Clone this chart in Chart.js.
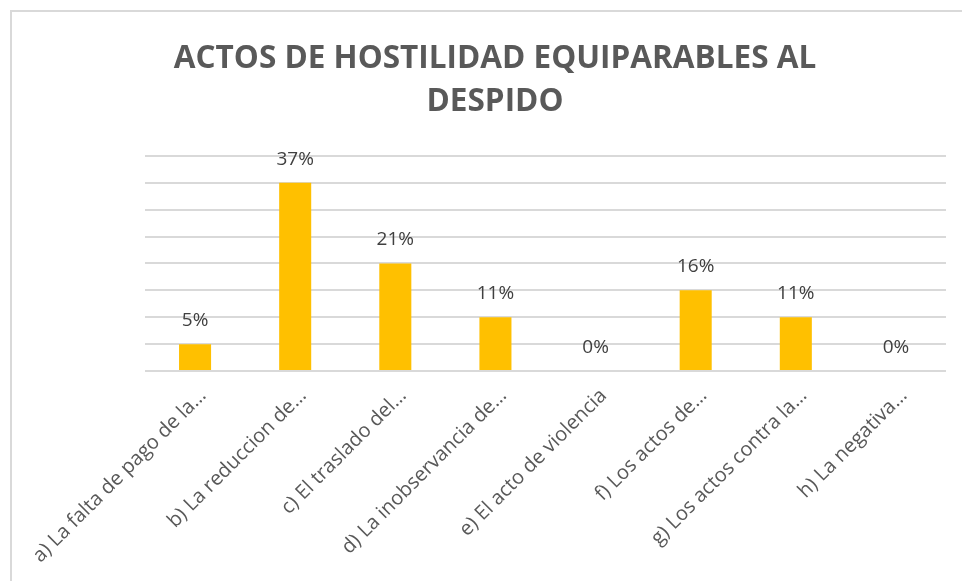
<!DOCTYPE html>
<html>
<head>
<meta charset="utf-8">
<script src="https://cdn.jsdelivr.net/npm/chart.js@4"></script>
<style>
  html, body { margin: 0; padding: 0; background: #fff; }
  #frame {
    position: absolute; left: 10px; top: 10px; width: 952px; height: 571px;
    border-top: 2px solid #d9d9d9; border-left: 2px solid #d9d9d9;
    box-sizing: border-box;
  }
  #wrap { position: absolute; left: 0; top: 0; width: 950px; height: 569px; }
</style>
</head>
<body>
<div id="frame"><div id="wrap"><canvas id="bar-chart"></canvas></div></div>
<script>
const categories = [
  'a) La falta de pago de la…',
  'b) La reduccion de…',
  'c) El traslado del…',
  'd) La inobservancia de…',
  'e) El acto de violencia',
  'f) Los actos de…',
  'g) Los actos contra la…',
  'h) La negativa…'
];
const percentValues = [5.26, 36.84, 21.05, 10.53, 0, 15.79, 10.53, 0];
const valueLabels = ['5%', '37%', '21%', '11%', '0%', '16%', '11%', '0%'];
const titleLines = ['ACTOS DE HOSTILIDAD EQUIPARABLES AL', 'DESPIDO'];

const barColor = '#FFC000';
const gridColor = '#d9d9d9';

const valueLabelPlugin = {
  id: 'valueLabels',
  afterDatasetsDraw(chart) {
    const ctx = chart.ctx;
    const meta = chart.getDatasetMeta(0);
    ctx.save();
    ctx.font = '19px "Open Sans"';
    ctx.fillStyle = '#404040';
    ctx.textAlign = 'center';
    ctx.textBaseline = 'alphabetic';
    meta.data.forEach(function(bar, i){
      ctx.fillText(valueLabels[i], bar.x, bar.y - 18);
    });
    ctx.restore();
  }
};

const data = {
  labels: categories,
  datasets: [{
    data: percentValues,
    backgroundColor: barColor,
    barPercentage: 0.32,
    categoryPercentage: 1.0
  }]
};

const config = {
  type: 'bar',
  data: data,
  plugins: [valueLabelPlugin],
  options: {
    responsive: true,
    maintainAspectRatio: false,
    animation: false,
    layout: { padding: { left: 32, right: 16, top: 0, bottom: 4 } },
    plugins: {
      legend: { display: false },
      tooltip: { enabled: false },
      title: {
        display: true,
        text: titleLines,
        color: '#595959',
        font: { family: 'Open Sans', size: 31.5, weight: 'bold', lineHeight: 1.38 },
        padding: { top: 25, bottom: 32 }
      }
    },
    scales: {
      x: {
        afterFit: function(scale){ scale.height = 206; },
        grid: { display: false },
        border: { display: false },
        ticks: {
          color: '#595959',
          font: { family: 'Open Sans', size: 20 },
          minRotation: 45,
          maxRotation: 45,
          autoSkip: false,
          padding: 5,
          labelOffset: 8
        }
      },
      y: {
        min: 0,
        max: 42.1,
        afterFit: function(scale){ scale.width = 101; },
        ticks: { display: false, stepSize: 5.2625 },
        border: { display: false },
        grid: { color: gridColor, lineWidth: 2, drawTicks: false }
      }
    }
  }
};

Chart.defaults.font.family = 'Open Sans';

const myChart = new Chart(document.getElementById('bar-chart'), config);
</script>
</body>
</html>
